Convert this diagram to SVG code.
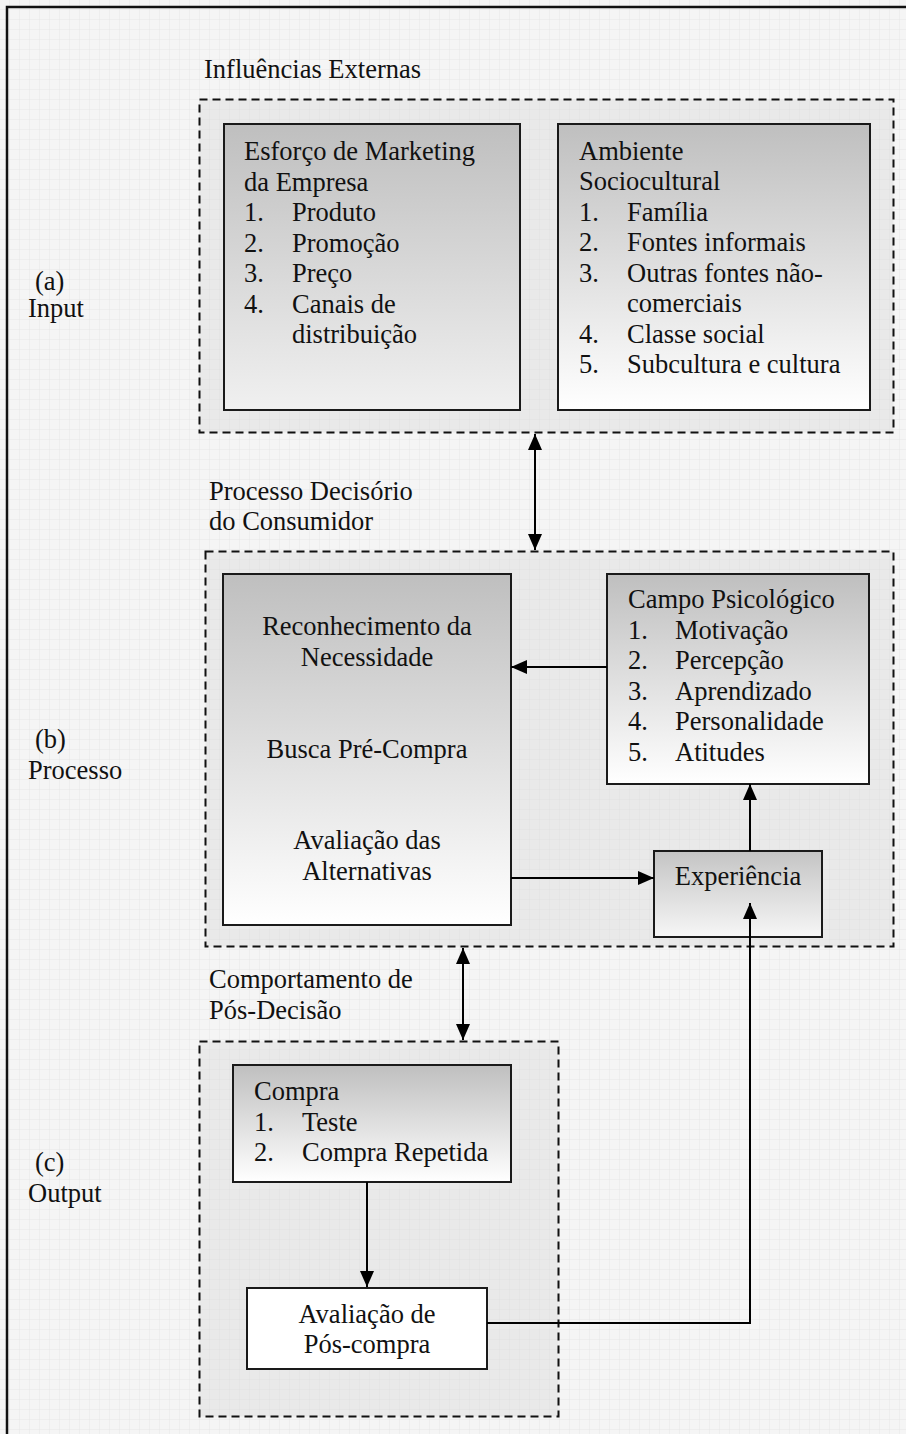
<svg xmlns="http://www.w3.org/2000/svg" width="906" height="1434" viewBox="0 0 906 1434">
  <defs>
    <pattern id="grid" width="10" height="10" patternUnits="userSpaceOnUse">
      <rect width="10" height="10" fill="#f5f5f5"/>
      <path d="M10 0V10M0 10H10" fill="none" stroke="#e7e7e7" stroke-width="1"/>
    </pattern>
    <linearGradient id="gShade" x1="0" y1="0" x2="0" y2="1">
      <stop offset="0" stop-color="#bfbfbf"/>
      <stop offset="1" stop-color="#ffffff"/>
    </linearGradient>
    <linearGradient id="gShadeSoft" x1="0" y1="0" x2="0" y2="1">
      <stop offset="0" stop-color="#bfbfbf"/>
      <stop offset="1" stop-color="#f0f0f0"/>
    </linearGradient>
    <linearGradient id="gExp" x1="0" y1="0" x2="0" y2="1">
      <stop offset="0" stop-color="#c4c4c4"/>
      <stop offset="1" stop-color="#f6f6f6"/>
    </linearGradient>
    <marker id="arr" viewBox="0 0 16 14" refX="16" refY="7" markerWidth="16" markerHeight="14" markerUnits="userSpaceOnUse" orient="auto-start-reverse">
      <path d="M0 0L16 7L0 14Z" fill="#000"/>
    </marker>
    <style>
      text { font-family: "Liberation Serif", "Times New Roman", serif; font-size: 26.5px; fill: #111; }
      .mid { text-anchor: middle; }
      .zone { fill: #d6d6d6; fill-opacity: 0.4; stroke: #111; stroke-width: 2; stroke-dasharray: 8 5; }
      .box { stroke: #1a1a1a; stroke-width: 2; }
      .link { fill: none; stroke: #000; stroke-width: 2; }
    </style>
  </defs>

  <!-- page background and frame -->
  <rect width="906" height="1434" fill="url(#grid)"/>
  <path d="M7 1434V7H906" fill="none" stroke="#111" stroke-width="2.5"/>

  <!-- stage labels -->
  <g id="label-input">
    <text x="35" y="290">(a)</text>
    <text x="28" y="317">Input</text>
  </g>
  <g id="label-processo">
    <text x="35" y="748">(b)</text>
    <text x="28" y="779">Processo</text>
  </g>
  <g id="label-output">
    <text x="35" y="1171">(c)</text>
    <text x="28" y="1202">Output</text>
  </g>

  <!-- input zone -->
  <g id="zone-influencias">
    <text x="204" y="78">Influências Externas</text>
    <rect class="zone" x="199.5" y="99.5" width="694" height="333"/>
  </g>

  <g id="node-marketing">
    <rect class="box" x="224" y="124" width="296" height="286" fill="url(#gShadeSoft)"/>
    <text x="244" y="160">Esforço de Marketing</text>
    <text x="244" y="190.5">da Empresa</text>
    <text x="244" y="221">1.</text><text x="292" y="221">Produto</text>
    <text x="244" y="251.5">2.</text><text x="292" y="251.5">Promoção</text>
    <text x="244" y="282">3.</text><text x="292" y="282">Preço</text>
    <text x="244" y="312.5">4.</text><text x="292" y="312.5">Canais de</text>
    <text x="292" y="343">distribuição</text>
  </g>

  <g id="node-sociocultural">
    <rect class="box" x="558" y="124" width="312" height="286" fill="url(#gShade)"/>
    <text x="579" y="159.5">Ambiente</text>
    <text x="579" y="190">Sociocultural</text>
    <text x="579" y="220.5">1.</text><text x="627" y="220.5">Família</text>
    <text x="579" y="251">2.</text><text x="627" y="251">Fontes informais</text>
    <text x="579" y="281.5">3.</text><text x="627" y="281.5">Outras fontes não-</text>
    <text x="627" y="312">comerciais</text>
    <text x="579" y="342.5">4.</text><text x="627" y="342.5">Classe social</text>
    <text x="579" y="373">5.</text><text x="627" y="373">Subcultura e cultura</text>
  </g>

  <!-- process zone -->
  <g id="zone-processo">
    <text x="209" y="500">Processo Decisório</text>
    <text x="209" y="530">do Consumidor</text>
    <rect class="zone" x="205.5" y="551.5" width="688" height="395"/>
  </g>

  <g id="node-decisao">
    <rect class="box" x="223" y="574" width="288" height="351" fill="url(#gShade)"/>
    <text class="mid" x="367" y="635">Reconhecimento da</text>
    <text class="mid" x="367" y="666">Necessidade</text>
    <text class="mid" x="367" y="758">Busca Pré-Compra</text>
    <text class="mid" x="367" y="849">Avaliação das</text>
    <text class="mid" x="367" y="880">Alternativas</text>
  </g>

  <g id="node-psicologico">
    <rect class="box" x="607" y="574" width="262" height="210" fill="url(#gShade)"/>
    <text x="628" y="608">Campo Psicológico</text>
    <text x="628" y="638.5">1.</text><text x="675" y="638.5">Motivação</text>
    <text x="628" y="669">2.</text><text x="675" y="669">Percepção</text>
    <text x="628" y="699.5">3.</text><text x="675" y="699.5">Aprendizado</text>
    <text x="628" y="730">4.</text><text x="675" y="730">Personalidade</text>
    <text x="628" y="760.5">5.</text><text x="675" y="760.5">Atitudes</text>
  </g>

  <g id="node-experiencia">
    <rect class="box" x="654" y="851" width="168" height="86" fill="url(#gExp)"/>
    <text class="mid" x="738" y="885">Experiência</text>
  </g>

  <!-- output zone -->
  <g id="zone-posdecisao">
    <text x="209" y="988">Comportamento de</text>
    <text x="209" y="1019">Pós-Decisão</text>
    <rect class="zone" x="199.5" y="1041.5" width="359" height="375"/>
  </g>

  <g id="node-compra">
    <rect class="box" x="233" y="1065" width="278" height="117" fill="url(#gShade)"/>
    <text x="254" y="1100">Compra</text>
    <text x="254" y="1130.5">1.</text><text x="302" y="1130.5">Teste</text>
    <text x="254" y="1161">2.</text><text x="302" y="1161">Compra Repetida</text>
  </g>

  <g id="node-avaliacao">
    <rect class="box" x="247" y="1288" width="240" height="81" fill="#ffffff"/>
    <text class="mid" x="367" y="1323">Avaliação de</text>
    <text class="mid" x="367" y="1353">Pós-compra</text>
  </g>

  <!-- connectors -->
  <g id="connectors">
    <line class="link" x1="535" y1="434" x2="535" y2="550" marker-start="url(#arr)" marker-end="url(#arr)"/>
    <line class="link" x1="607" y1="667" x2="511" y2="667" marker-end="url(#arr)"/>
    <line class="link" x1="511" y1="878" x2="654" y2="878" marker-end="url(#arr)"/>
    <line class="link" x1="750" y1="851" x2="750" y2="784" marker-end="url(#arr)"/>
    <line class="link" x1="463" y1="948" x2="463" y2="1040" marker-start="url(#arr)" marker-end="url(#arr)"/>
    <line class="link" x1="367" y1="1182" x2="367" y2="1287" marker-end="url(#arr)"/>
    <polyline class="link" points="487,1323 750,1323 750,903" marker-end="url(#arr)"/>
  </g>
</svg>
